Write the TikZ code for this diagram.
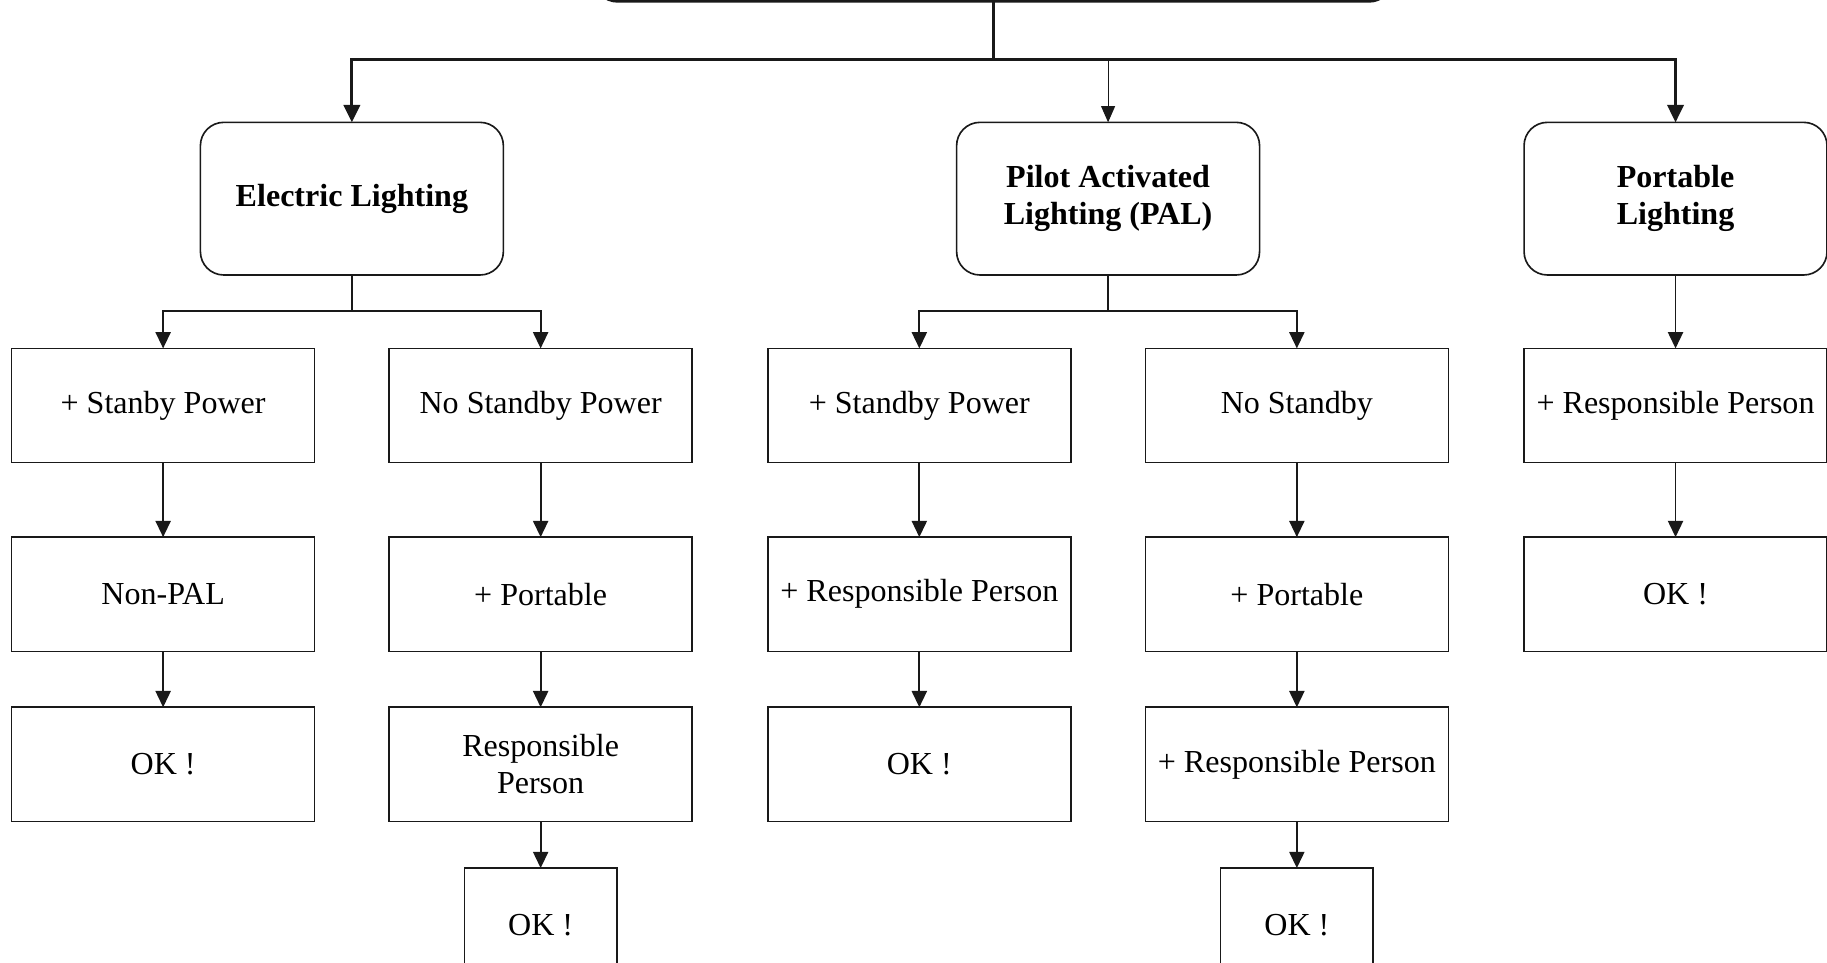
\documentclass[tikz,border=0pt]{standalone}
\usepackage{fontspec}
\setmainfont{Liberation Serif}
\usetikzlibrary{arrows.meta}

\begin{document}
\fontsize{13.75pt}{16pt}\selectfont
\begin{tikzpicture}[x=0.5pt,y=-0.5pt,
  line join=miter,
  box/.style={draw=black!90, line width=0.7pt, inner sep=0pt, outer sep=0pt,
    minimum width=130pt, minimum height=49pt, align=center},
  okbox/.style={box, minimum width=65.5pt},
  head/.style={box, rounded corners=10pt, minimum height=65.5pt, font=\bfseries},
  link/.style={draw=black!90, line width=0.8pt},
  arr/.style={link, -{Triangle[length=7pt,width=6.5pt]}},
  heavy/.style={draw=black!90, line width=1.3pt},
  heavyarr/.style={heavy, -{Triangle[length=7.5pt,width=7pt]}},
  thinarr/.style={draw=black!90, line width=0.5pt, -{Triangle[length=7pt,width=6pt]}}
]
\useasboundingbox (0,0) rectangle (1568,826);
\clip (0,0) rectangle (1568,826);

% root box, only its lower edge lies inside the frame
\node[head, line width=1.3pt, minimum width=342.5pt, minimum height=41pt] (root) at (852.5,-40) {};

% first level
\node[head] (el)   at (302,170.5)  {Electric Lighting};
\node[head] (pal)  at (951,170.5)  {Pilot Activated\\Lighting (PAL)};
\node[head] (port) at (1438,170.5) {Portable\\Lighting};

% electric lighting branch
\node[box] (e1)  at (140,348) {+ Stanby Power};
\node[box] (e2)  at (464,348) {No Standby Power};
\node[box] (e1a) at (140,510) {Non-PAL};
\node[box] (e1b) at (140,656) {OK !};
\node[box] (e2a) at (464,510) {+ Portable};
\node[box] (e2b) at (464,656) {Responsible\\Person};
\node[okbox] (e2c) at (464,794) {OK !};

% pilot activated branch
\node[box] (p1)  at (789,348)  {+ Standby Power};
\node[box] (p2)  at (1113,348) {No Standby};
\node[box] (p1a) at (789,510)  {+ Responsible Person};
\node[box] (p1b) at (789,656)  {OK !};
\node[box] (p2a) at (1113,510) {+ Portable};
\node[box] (p2b) at (1113,656) {+ Responsible Person};
\node[okbox] (p2c) at (1113,794) {OK !};

% portable branch
\node[box] (r1)  at (1438,348) {+ Responsible Person};
\node[box] (r1a) at (1438,510) {OK !};

% main bus
\coordinate (bus) at (852.5,51);
\draw[heavy] (root.south) -- (bus);
\draw[heavyarr] (bus) -| (el.north);
\draw[heavyarr] (bus) -| (port.north);
\draw[heavy] (el.north |- bus) -- (port.north |- bus);
\draw[thinarr] (pal.north |- bus) -- (pal.north);

% split below electric lighting
\coordinate (ej) at (302,267);
\draw[link] (el.south) -- (ej);
\draw[arr] (ej) -| (e1.north);
\draw[arr] (ej) -| (e2.north);
\draw[arr] (e1) -- (e1a);
\draw[arr] (e1a) -- (e1b);
\draw[arr] (e2) -- (e2a);
\draw[arr] (e2a) -- (e2b);
\draw[arr] (e2b) -- (e2c);

% split below pilot activated lighting
\coordinate (pj) at (951,267);
\draw[link] (pal.south) -- (pj);
\draw[arr] (pj) -| (p1.north);
\draw[arr] (pj) -| (p2.north);
\draw[arr] (p1) -- (p1a);
\draw[arr] (p1a) -- (p1b);
\draw[arr] (p2) -- (p2a);
\draw[arr] (p2a) -- (p2b);
\draw[arr] (p2b) -- (p2c);

% portable lighting chain
\draw[arr] (port) -- (r1);
\draw[arr] (r1) -- (r1a);
\end{tikzpicture}
\end{document}
